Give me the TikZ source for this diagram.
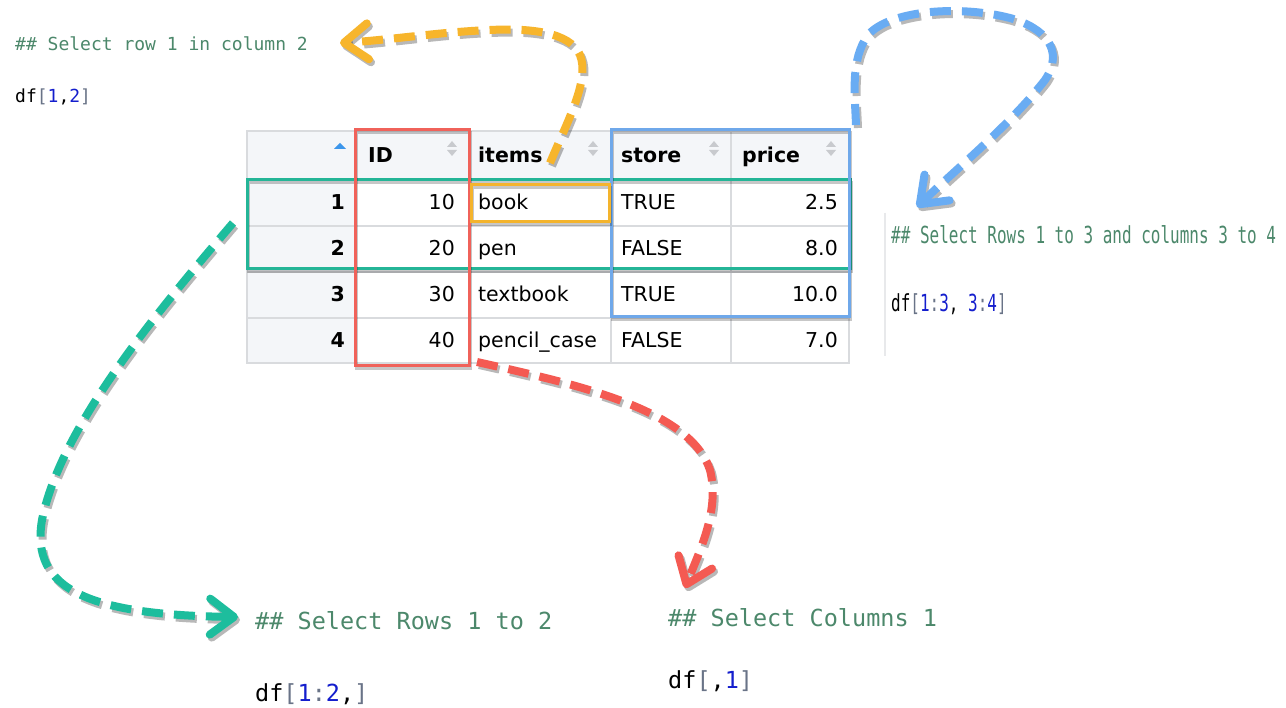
\documentclass[tikz,border=0pt]{standalone}
\usepackage{fontspec}
\setmainfont{DejaVu Sans}
\newfontfamily\monof{DejaVu Sans Mono}
\newfontfamily\condmono[FakeStretch=0.68]{DejaVu Sans Mono}
\usetikzlibrary{arrows.meta}
\definecolor{cmt}{RGB}{76,136,107}
\definecolor{num}{RGB}{20,30,205}
\definecolor{brk}{RGB}{105,115,135}
\definecolor{hdrbg}{RGB}{244,246,249}
\definecolor{gridc}{RGB}{217,219,222}
\definecolor{sortc}{RGB}{200,202,206}
\definecolor{sortblue}{RGB}{60,150,235}
\definecolor{boxred}{RGB}{240,98,90}
\definecolor{boxgreen}{RGB}{36,181,151}
\definecolor{boxblue}{RGB}{111,168,234}
\definecolor{boxorange}{RGB}{244,180,45}
\definecolor{arrred}{RGB}{244,90,82}
\definecolor{arrgreen}{RGB}{29,189,157}
\definecolor{arrblue}{RGB}{105,172,243}
\definecolor{arrorange}{RGB}{247,181,44}
\begin{document}
\begin{tikzpicture}[x=1pt,y=-1pt,
  cell/.style={inner sep=0pt, font=\fontsize{20.5}{24}\selectfont},
  hdr/.style={cell, font=\fontsize{20.5}{24}\selectfont\bfseries},
  idx/.style={cell, font=\fontsize{20.5}{24}\selectfont\bfseries, anchor=base east},
  gridline/.style={draw=gridc, line width=1.5pt},
  selbox/.style={line width=3pt, preaction={draw=black, line width=3pt, opacity=0.22, transform canvas={shift={(1,3)}}}},
  smallcmt/.style={inner sep=0pt, anchor=base west, text=cmt, font=\monof\fontsize{18}{20}\selectfont},
  smallcode/.style={inner sep=0pt, anchor=base west, font=\monof\fontsize{18}{20}\selectfont},
  bigcmt/.style={inner sep=0pt, anchor=base west, text=cmt, font=\monof\fontsize{23.5}{26}\selectfont},
  bigcode/.style={inner sep=0pt, anchor=base west, font=\monof\fontsize{23.5}{26}\selectfont},
  condcmt/.style={inner sep=0pt, anchor=base west, text=cmt, font=\condmono\fontsize{23.5}{26}\selectfont},
  condcode/.style={inner sep=0pt, anchor=base west, font=\condmono\fontsize{23.5}{26}\selectfont},
  tipstyle/.style={-{Straight Barb[length=24pt,width=36pt,round]}},
  dasharrow/.style={line width=8pt, dash pattern=on 21pt off 11pt, tipstyle,
    preaction={draw=black, opacity=0.28, line width=8pt, dash pattern=on 21pt off 11pt, tipstyle,
      transform canvas={shift={(2,3)}}}}
]
\useasboundingbox (0,0) rectangle (1286,708);
\fill[white] (0,0) rectangle (1286,708);

% ---------- table ----------
\fill[hdrbg] (247,131) rectangle (849,180);
\fill[hdrbg] (247,180) rectangle (355,363);
\draw[gridline] (247,131) rectangle (849,363);
\foreach \yy in {180,226,272,318} \draw[gridline] (247,\yy) -- (849,\yy);
\foreach \xx in {355,470,611,731} \draw[gridline] (\xx,131) -- (\xx,363);

% sort icons
\fill[sortblue] (340,143) -- (334,149) -- (346,149) -- cycle;
\foreach \xx in {452,593,714,831}{
  \fill[sortc] (\xx,141) -- (\xx-5,147) -- (\xx+5,147) -- cycle;
  \fill[sortc] (\xx,156) -- (\xx-5,150) -- (\xx+5,150) -- cycle;
}

% header
\node[hdr, anchor=base west] (hID) at (368,163) {ID};
\node[hdr, anchor=base west] (hitems) at (478,163) {items};
\node[hdr, anchor=base west] (hstore) at (621,163) {store};
\node[hdr, anchor=base west] (hprice) at (742,163) {price};

% rows
\node[idx] (r1) at (345,210) {1};
\node[idx] (r2) at (345,256) {2};
\node[idx] (r3) at (345,302) {3};
\node[idx] (r4) at (345,348) {4};
\node[cell, anchor=base east] (id1) at (455,210) {10};
\node[cell, anchor=base east] (id2) at (455,256) {20};
\node[cell, anchor=base east] (id3) at (455,302) {30};
\node[cell, anchor=base east] (id4) at (455,348) {40};
\node[cell, anchor=base west] (it1) at (478,210) {book};
\node[cell, anchor=base west] (it2) at (478,256) {pen};
\node[cell, anchor=base west] (it3) at (478,302) {textbook};
\node[cell, anchor=base west] (it4) at (478,348) {pencil\_case};
\node[cell, anchor=base west] (st1) at (621,210) {TRUE};
\node[cell, anchor=base west] (st2) at (621,256) {FALSE};
\node[cell, anchor=base west] (st3) at (621,302) {TRUE};
\node[cell, anchor=base west] (st4) at (621,348) {FALSE};
\node[cell, anchor=base east] (pr1) at (838,210) {2.5};
\node[cell, anchor=base east] (pr2) at (838,256) {8.0};
\node[cell, anchor=base east] (pr3) at (838,302) {10.0};
\node[cell, anchor=base east] (pr4) at (838,348) {7.0};

% selection boxes
\draw[selbox, draw=boxgreen] (247,180) rectangle (850,269);
\draw[selbox, draw=boxblue] (611,130) rectangle (849,317);
\draw[selbox, draw=boxred] (355,130) rectangle (469,366);
\draw[selbox, draw=boxorange] (471,185) rectangle (609,222);

% ---------- texts ----------
\node[smallcmt] (cmt1) at (15,51) {\#\# Select row 1 in column 2};
\node[smallcode] (code1) at (15,103) {df\textcolor{brk}{[}\textcolor{num}{1},\textcolor{num}{2}\textcolor{brk}{]}};

\draw[draw=gridc!60, line width=1.5pt] (885,213) -- (885,356);
\node[condcmt] (cmt2) at (891,244) {\#\# Select Rows 1 to 3 and columns 3 to 4};
\node[condcode] (code2) at (891,312) {df\textcolor{brk}{[}\textcolor{num}{1}\textcolor{brk}{:}\textcolor{num}{3}, \textcolor{num}{3}\textcolor{brk}{:}\textcolor{num}{4}\textcolor{brk}{]}};

\node[bigcmt] (cmt3) at (255,629) {\#\# Select Rows 1 to 2};
\node[bigcode] (code3) at (255,701) {df\textcolor{brk}{[}\textcolor{num}{1}\textcolor{brk}{:}\textcolor{num}{2},\textcolor{brk}{]}};

\node[bigcmt] (cmt4) at (668,626) {\#\# Select Columns 1};
\node[bigcode] (code4) at (668,688) {df\textcolor{brk}{[},\textcolor{num}{1}\textcolor{brk}{]}};

% ---------- arrows ----------
\coordinate (oS) at (550,163);
\coordinate (oE) at (340,43);
\coordinate (bS) at (856,125);
\coordinate (bE) at (917,207);
\coordinate (gS) at (233,223);
\coordinate (gE) at (238,617);
\coordinate (rS) at (477,362);
\coordinate (rE) at (685,588);

\draw[dasharrow, draw=arrorange] (oS) .. controls (568,120) and (590,80) .. (580,55)
  .. controls (570,32) and (530,28) .. (490,30)
  .. controls (440,32) and (390,40) .. (oE);
\draw[dasharrow, draw=arrblue] (bS) .. controls (855,95) and (850,60) .. (868,35)
  .. controls (890,10) and (960,5) .. (1010,18)
  .. controls (1045,28) and (1065,50) .. (1045,80)
  .. controls (1010,125) and (955,170) .. (bE);
\draw[dasharrow, draw=arrgreen] (gS) .. controls (150,320) and (60,430) .. (42,520)
  .. controls (30,590) and (90,615) .. (gE);
\draw[dasharrow, draw=arrred] (rS) .. controls (580,385) and (690,410) .. (710,470)
  .. controls (720,510) and (700,550) .. (rE);
\end{tikzpicture}
\end{document}
